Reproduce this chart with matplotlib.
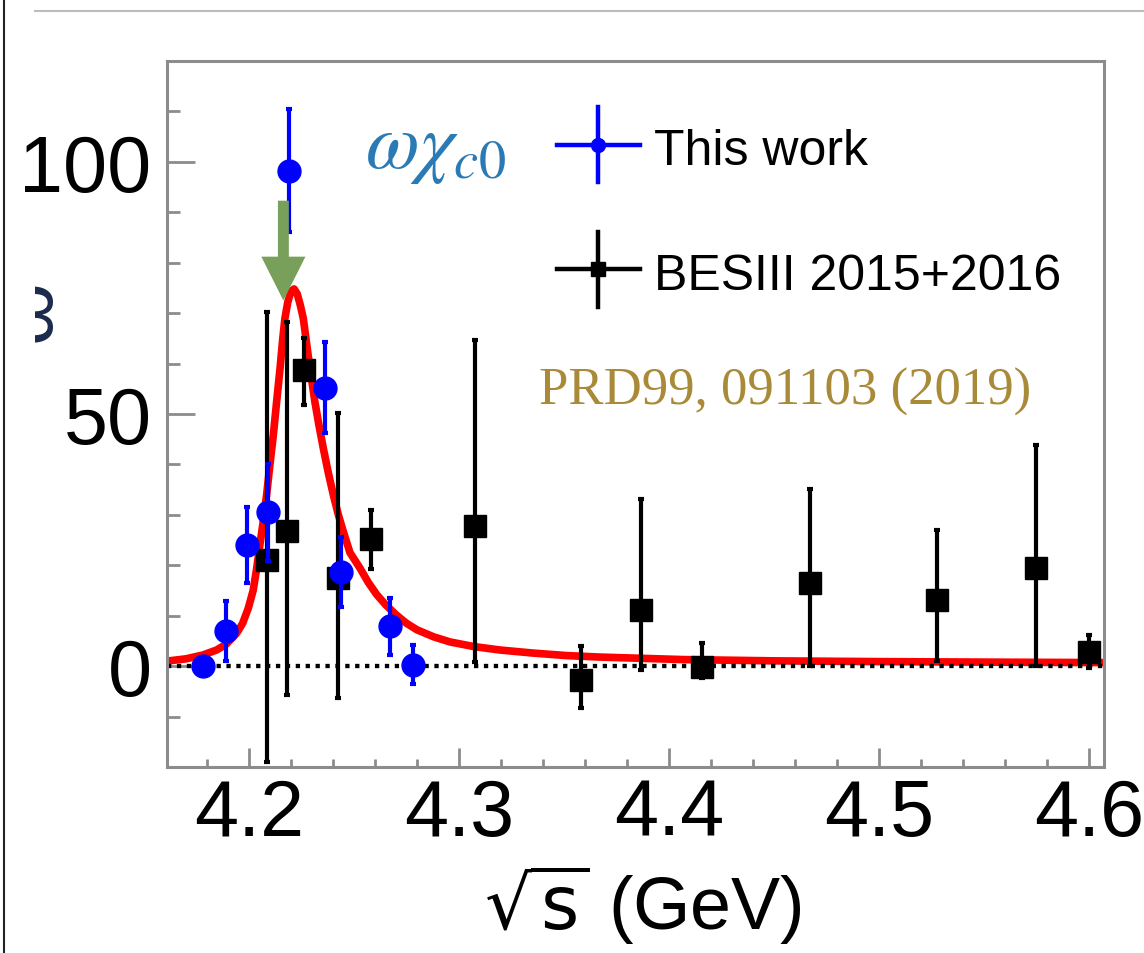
import numpy as np
import matplotlib.pyplot as plt
from matplotlib.patches import FancyArrow
from matplotlib.lines import Line2D
from matplotlib.ticker import MultipleLocator
from matplotlib.transforms import Bbox, TransformedBbox

plt.rcParams['font.family'] = ['Liberation Sans', 'DejaVu Sans']

# This work (azul)
x_this = [4.178, 4.189, 4.199, 4.209, 4.219, 4.236, 4.244, 4.267, 4.278]
y_this = [0.0, 7.0, 24.0, 30.5, 98.2, 55.2, 18.7, 7.9, 0.3]
e_this = [1.5, 6.0, 7.5, 9.6, 12.2, 9.0, 7.0, 5.6, 3.9]

# BESIII 2015+2016 (negro)
x_bes = [4.2084, 4.2179, 4.2262, 4.2422, 4.2581, 4.3076, 4.358, 4.3866,
         4.4158, 4.4672, 4.5277, 4.5747, 4.600]
y_bes = [21.0, 26.7, 58.7, 17.4, 25.3, 27.7, -2.7, 11.2, -0.1, 16.4, 13.1, 19.5, 2.9]
e_bes_lo = [40.0, 32.4, 7.0, 23.7, 6.0, 26.8, 5.6, 11.9, 2.3, 16.4, 12.1, 19.5, 3.3]
e_bes_hi = [49.2, 41.5, 6.3, 32.7, 5.7, 36.9, 6.6, 22.0, 4.7, 18.8, 13.9, 24.3, 3.3]

# Curva de ajuste
x_fit = [4.161, 4.170, 4.178, 4.1846, 4.189, 4.1941, 4.197, 4.1997, 4.202, 4.2037,
         4.2052, 4.2068, 4.2084, 4.210, 4.2116, 4.2132, 4.2148, 4.216, 4.2171, 4.2185,
         4.2200, 4.2215, 4.2230, 4.2245, 4.2259, 4.2270, 4.2282, 4.2298, 4.2314, 4.2334,
         4.2354, 4.2378, 4.2402, 4.2425, 4.2449, 4.2481, 4.2529, 4.2568, 4.2608, 4.2650,
         4.2700, 4.2750, 4.2800, 4.2880, 4.2957, 4.3068, 4.3195, 4.335, 4.351, 4.367,
         4.383, 4.407, 4.450, 4.500, 4.550, 4.607]
y_fit = [1.0, 1.45, 2.2, 3.2, 4.3, 6.5, 8.5, 11.5, 15.0, 19.4,
         24.0, 28.7, 33.9, 40.0, 45.8, 52.5, 59.0, 64.5, 68.9, 72.2,
         74.3, 74.8, 73.8, 71.5, 68.9, 65.4, 61.6, 57.0, 52.4, 47.6,
         43.2, 38.3, 33.9, 30.1, 26.7, 22.5, 19.4, 16.6, 14.2, 12.2,
         10.2, 8.5, 7.2, 5.8, 4.8, 3.9, 3.2, 2.6, 2.1, 1.8,
         1.6, 1.3, 1.05, 0.9, 0.8, 0.7]

xticks = [4.2, 4.3, 4.4, 4.5, 4.6]
yticks = [0, 50, 100]

W, H = 1144, 954
fig = plt.figure(figsize=(W / 100, H / 100), dpi=100)
ax = fig.add_axes([167 / W, 1 - 768 / H, 937 / W, 706 / H])

gris = '#8c8c8c'

ax.plot(x_fit, y_fit, color='#ff0000', lw=5.5, zorder=1.5,
        solid_joinstyle='round')
ax.axhline(0, color='black', lw=3.1, linestyle=(0, (1, 1.3)), zorder=2)
ax.errorbar(x_bes, y_bes, yerr=[e_bes_lo, e_bes_hi], fmt='s', color='black',
            ms=16, elinewidth=3, capsize=2.5, capthick=3, zorder=3)
ax.errorbar(x_this, y_this, yerr=e_this, fmt='o', color='#0000ff', ms=16.5,
            elinewidth=3, capsize=2.5, capthick=3, zorder=4)

# flecha verde
ax.add_patch(FancyArrow(4.2164, 92.3, 0, -19.8, width=0.0052, head_width=0.021,
                        head_length=8.7, length_includes_head=True,
                        color='#78a05a', lw=0, zorder=6))

ax.set_xlim(4.161, 4.607)
ax.set_ylim(-20, 120)
ax.set_xticks(xticks)
ax.set_xticklabels([str(v) for v in xticks])
ax.set_yticks(yticks)
ax.xaxis.set_minor_locator(MultipleLocator(0.02))
ax.yaxis.set_minor_locator(MultipleLocator(10))
ax.tick_params(axis='both', which='both', direction='in', color=gris, width=2,
               top=False, right=False, labelsize=57)
ax.tick_params(axis='y', which='major', length=20, pad=11)
ax.tick_params(axis='y', which='minor', length=9.5)
ax.tick_params(axis='x', which='major', length=14, pad=7)
ax.tick_params(axis='x', which='minor', length=6)
for s in ax.spines.values():
    s.set_color(gris)
    s.set_linewidth(2.2)

# leyenda hecha a mano
ax.plot([0.416, 0.5045], [0.8815, 0.8815], transform=ax.transAxes, color='#0000ff', lw=3.2)
ax.plot([0.46, 0.46], [0.828, 0.935], transform=ax.transAxes, color='#0000ff', lw=3.2)
ax.plot([0.46], [0.8815], 'o', transform=ax.transAxes, color='#0000ff', ms=10)
ax.plot([0.416, 0.5045], [0.7055, 0.7055], transform=ax.transAxes, color='black', lw=3.2)
ax.plot([0.46, 0.46], [0.652, 0.758], transform=ax.transAxes, color='black', lw=3.2)
ax.plot([0.46], [0.7055], 's', transform=ax.transAxes, color='black', ms=10)
ax.text(0.52, 0.854, 'This work', transform=ax.transAxes, fontsize=36,
        va='baseline', ha='left')
ax.text(0.52, 0.677, 'BESIII 2015+2016', transform=ax.transAxes, fontsize=36,
        va='baseline', ha='left')

ax.text(0.2113, 0.85, r'$\omega\chi_{c0}$', transform=ax.transAxes, fontsize=56,
        color='#2a7ab5', math_fontfamily='stix', va='baseline', ha='left')
ax.text(0.6596, 0.514, 'PRD99, 091103 (2019)', transform=ax.transAxes,
        fontsize=38, color='#a88a38', family='Liberation Serif',
        va='baseline', ha='center')

fig.text(643 / W, 1 - 930 / H, r'$\sqrt{\mathrm{s}}$ (GeV)', fontsize=53,
         math_fontfamily='dejavusans', ha='center', va='baseline')

# bordes de la diapositiva
fig.add_artist(Line2D([4 / W, 4 / W], [0, 1], transform=fig.transFigure,
                      color='#222222', lw=1.5))
fig.add_artist(Line2D([35 / W, 1], [1 - 12 / H, 1 - 12 / H],
                      transform=fig.transFigure, color='#bdbdbd', lw=1.5))
t = fig.text(50 / W, 1 - 311 / H, 'ω', fontsize=58, rotation=90,
             rotation_mode='anchor', ha='center', va='baseline', color='#1b2a4a')
t.set_clip_box(TransformedBbox(Bbox([[35 / W, 0], [200 / W, 1]]), fig.transFigure))
t.set_clip_on(True)

fig.savefig('out.png', dpi=100)
